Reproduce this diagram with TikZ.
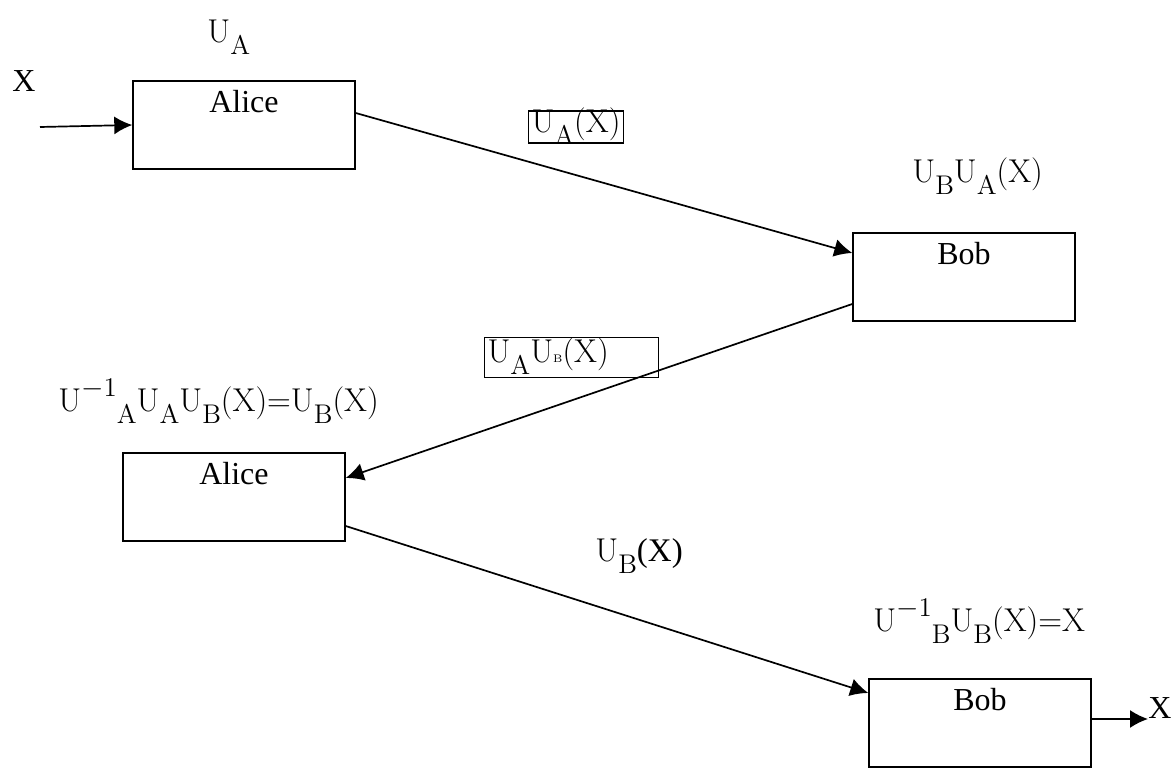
\documentclass[tikz,border=0pt]{standalone}
\usepackage{fontspec}
\newfontfamily\tnr{Liberation Serif}
\usetikzlibrary{arrows.meta,positioning}
\newcommand\subl[1]{\raisebox{-6pt}{\fontsize{13.5}{13.5}\selectfont #1}}
\newcommand\tinysub[1]{{\fontsize{5.5}{5.5}\selectfont #1}}
\newcommand\uinv{\raisebox{7.5pt}{\fontsize{13.5}{13.5}\selectfont$-$1}}
\tikzset{
    party/.style={rectangle,draw,line width=0.7pt,inner sep=0pt,text width=111pt,
        align=center,text height=16pt,text depth=28pt,font=\tnr\fontsize{16}{19}\selectfont},
    msg/.style={inner sep=0pt,font=\fontsize{16.5}{19}\selectfont},
    boxmsg/.style={msg,draw,line width=0.6pt,inner xsep=1.5pt},
    plain/.style={inner sep=0pt,font=\tnr\fontsize{16}{19}\selectfont},
    pre/.style={-{Latex[length=9pt,width=9pt]},line width=0.85pt}
}

\begin{document}
\begin{tikzpicture}[x=0.5pt,y=-0.5pt]
    \useasboundingbox (0,0) rectangle (1175,769);

    \node[party] (alice 1) at (244,125) {Alice};
    \node[party] (bob 1)   at (964,277) {Bob};
    \node[party] (alice 2) at (234,497) {Alice};
    \node[party] (bob 2)   at (980,723) {Bob};

    \coordinate (x in)  at (40,127);
    \coordinate (x out) at (1148,719);
    \node[plain] (x in label)  at (24,81)   {X};
    \node[plain] (x out label) at (1160,708) {X};

    \node[msg,anchor=base west] (ua) at (207,43) {U\subl{A}};
    \node[boxmsg,text height=11pt,text depth=5pt,inner ysep=0pt] (ua x) at (576,127) {U\subl{A}(X)};
    \node[msg,anchor=base west] (ub ua x) at (912,183) {U\subl{B}U\subl{A}(X)};
    \node[boxmsg,anchor=north west,text width=84pt,align=left,text height=12.5pt,
          text depth=7.5pt,inner ysep=0pt] (ua ub x) at (484,337) {U\subl{A}U\tinysub{B}(X)};
    \node[msg,anchor=base west] (undo a) at (58,412) {U\uinv\subl{A}U\subl{A}U\subl{B}(X)=U\subl{B}(X)};
    \node[msg,anchor=base west] (ub x) at (595,562) {U\subl{B}{\tnr(X)}};
    \node[msg,anchor=base west] (undo b) at (873,632) {U\uinv\subl{B}U\subl{B}(X)=X};

    \draw[pre] (x in) -- (alice 1.west);
    \draw[pre] ([yshift=6pt]alice 1.east) -- ([yshift=12pt]bob 1.west);
    \draw[pre] ([yshift=-13.5pt]bob 1.west) -- ([yshift=9.5pt]alice 2.east);
    \draw[pre] ([yshift=-14.5pt]alice 2.east) -- ([yshift=15pt]bob 2.west);
    \draw[pre] ([yshift=2pt]bob 2.east) -- (x out);

\end{tikzpicture}
\end{document}
